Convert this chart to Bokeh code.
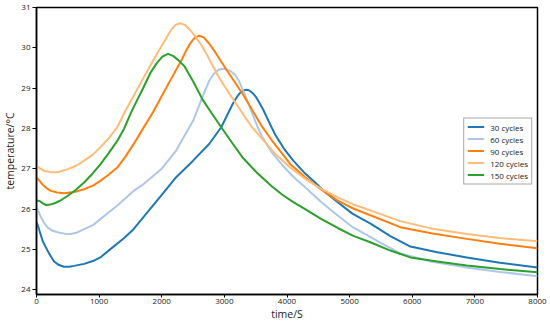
from bokeh.plotting import figure
from bokeh.models import Range1d, Legend, LegendItem
from bokeh.embed import file_html
from bokeh.resources import INLINE

# ---- data ----
t30 = [0, 20, 50, 100, 150, 200, 280, 360, 440, 520, 600, 760, 900, 1020, 1200, 1400, 1550, 1760, 2000,
       2230, 2500, 2760, 2950, 3130, 3200, 3250, 3300, 3350, 3400, 3450, 3500, 3550, 3625, 3700, 3810,
       3950, 4100, 4290, 4450, 4600, 4810, 5050, 5340, 5650, 5970, 6400, 6870, 7400, 8000]
T30 = [25.67, 25.6, 25.45, 25.2, 25.05, 24.9, 24.7, 24.61, 24.57, 24.57, 24.59, 24.64, 24.71, 24.8, 25.03, 25.28, 25.5, 25.9, 26.35,
       26.79, 27.2, 27.62, 28.03, 28.6, 28.78, 28.88, 28.94, 28.96, 28.94, 28.88, 28.79, 28.66, 28.45, 28.2, 27.85,
       27.5, 27.2, 26.88, 26.66, 26.43, 26.17, 25.88, 25.63, 25.33, 25.07, 24.93, 24.8, 24.67, 24.55]

t60 = [0, 30, 70, 120, 180, 260, 350, 450, 550, 650, 760, 900, 1020, 1300, 1550, 1710, 2000, 2230, 2500,
       2630, 2760, 2830, 2900, 2970, 3040, 3100, 3170, 3230, 3310, 3390, 3500, 3600, 3760, 3920, 4100,
       4290, 4550, 4810, 5050, 5340, 5570, 5810, 6300, 6870, 7400, 8000]
T60 = [26.08, 25.95, 25.8, 25.66, 25.54, 25.46, 25.42, 25.39, 25.38, 25.42, 25.5, 25.6, 25.75, 26.1, 26.45, 26.62, 27.0, 27.45, 28.19,
       28.7, 29.19, 29.35, 29.45, 29.48, 29.46, 29.42, 29.33, 29.19, 28.9, 28.6, 28.15, 27.8, 27.4, 27.1, 26.8,
       26.54, 26.17, 25.84, 25.55, 25.3, 25.1, 24.9, 24.7, 24.55, 24.44, 24.33]

t90 = [0, 50, 100, 160, 230, 330, 440, 600, 760, 900, 1020, 1150, 1290, 1420, 1550, 1710, 1860, 2020, 2160,
       2310, 2380, 2450, 2520, 2600, 2670, 2750, 2850, 2940, 3100, 3290, 3600, 3760, 3920, 4050, 4290,
       4550, 4810, 5050, 5340, 5810, 6300, 6870, 7400, 8000]
T90 = [26.78, 26.7, 26.6, 26.52, 26.45, 26.41, 26.39, 26.42, 26.49, 26.58, 26.7, 26.85, 27.03, 27.3, 27.61, 28.02, 28.4, 28.86, 29.26,
       29.68, 29.9, 30.1, 30.24, 30.3, 30.26, 30.12, 29.9, 29.68, 29.3, 28.86, 28.05, 27.7, 27.38, 27.12, 26.79,
       26.48, 26.21, 26.02, 25.84, 25.55, 25.4, 25.26, 25.14, 25.03]

t120 = [0, 60, 120, 230, 350, 500, 640, 760, 900, 1020, 1150, 1290, 1390, 1600, 1860, 2000, 2080, 2150,
        2220, 2290, 2370, 2450, 2550, 2640, 2730, 2900, 3080, 3440, 3810, 4050, 4290, 4550, 4810, 5050,
        5340, 5810, 6300, 6870, 7400, 8000]
T120 = [27.08, 27.0, 26.95, 26.91, 26.92, 26.99, 27.08, 27.2, 27.35, 27.53, 27.75, 28.03, 28.35, 28.95, 29.68, 30.05, 30.26, 30.45,
        30.57, 30.61, 30.57, 30.45, 30.25, 30.05, 29.8, 29.3, 28.86, 28.03, 27.37, 27.03, 26.75, 26.5, 26.29, 26.12,
        25.96, 25.7, 25.52, 25.38, 25.28, 25.2]

t150 = [0, 50, 100, 150, 220, 300, 400, 500, 630, 760, 890, 1020, 1150, 1290, 1400, 1520, 1710, 1820, 1920,
        2010, 2100, 2180, 2260, 2360, 2500, 2650, 2800, 2950, 3120, 3290, 3520, 3760, 3920, 4100, 4290,
        4550, 4810, 5050, 5340, 5650, 5970, 6400, 6870, 7400, 8000]
T150 = [26.21, 26.2, 26.14, 26.1, 26.11, 26.15, 26.23, 26.33, 26.48, 26.66, 26.87, 27.11, 27.38, 27.69, 28.0, 28.43, 29.02, 29.38, 29.62,
        29.78, 29.85, 29.8, 29.7, 29.55, 29.17, 28.72, 28.37, 28.03, 27.65, 27.28, 26.9, 26.56, 26.36, 26.17, 26.0,
        25.75, 25.53, 25.34, 25.17, 24.97, 24.8, 24.7, 24.6, 24.51, 24.43]

labels = ["30 cycles", "60 cycles", "90 cycles", "120 cycles", "150 cycles"]
colors = ["#1f77b4", "#aec7e8", "#ff7f0e", "#ffbb78", "#2ca02c"]
x_ticks = [0, 1000, 2000, 3000, 4000, 5000, 6000, 7000, 8000]
y_ticks = [24, 25, 26, 27, 28, 29, 30, 31]

FONT = "Open Sans"

p = figure(width=550, height=323, x_range=Range1d(0, 8000), y_range=Range1d(23.88, 31.0),
           output_backend="svg", toolbar_location=None,
           min_border_left=0, min_border_right=13, min_border_top=7, min_border_bottom=0)

series = [(t30, T30), (t60, T60), (t90, T90), (t120, T120), (t150, T150)]
renderers = []
for (tx, ty), c in zip(series, colors):
    r = p.line(tx, ty, line_color=c, line_width=2, line_join="round")
    renderers.append(r)

p.xgrid.visible = False
p.ygrid.visible = False
p.outline_line_color = "black"
p.outline_line_width = 1.5
p.outline_line_alpha = 1

for ax in (p.xaxis[0], p.yaxis[0]):
    ax.axis_line_color = "black"
    ax.axis_line_width = 1.5
    ax.major_tick_line_color = "black"
    ax.major_tick_in = 0
    ax.minor_tick_line_color = None
    ax.major_label_text_font = FONT
    ax.major_label_text_font_size = "8px"
    ax.major_label_text_color = "#222222"
    ax.axis_label_text_font = FONT
    ax.axis_label_text_font_size = "10.5px"
    ax.axis_label_text_font_style = "normal"
    ax.axis_label_text_color = "#222222"
    ax.axis_label_standoff = 1
    ax.major_label_standoff = 2

p.yaxis.major_tick_out = 4
p.xaxis.major_tick_out = 3
p.xaxis.major_label_standoff = 1
p.xaxis.axis_label_standoff = 0

p.xaxis.ticker = x_ticks
p.yaxis.ticker = y_ticks
p.xaxis.axis_label = "time/S"
p.yaxis.axis_label = "temperature/°C"

items = [LegendItem(label=l, renderers=[r]) for l, r in zip(labels, renderers)]
legend = Legend(items=items, location="center_right",
                label_text_font=FONT, label_text_font_size="8px", label_text_color="#222222",
                glyph_width=17, glyph_height=8, label_height=8, label_standoff=6,
                spacing=1, padding=3, margin=5,
                border_line_color="#555555", border_line_width=1,
                background_fill_color="white", background_fill_alpha=1)
p.add_layout(legend, "center")

open("out.html", "w").write(file_html(p, INLINE))
